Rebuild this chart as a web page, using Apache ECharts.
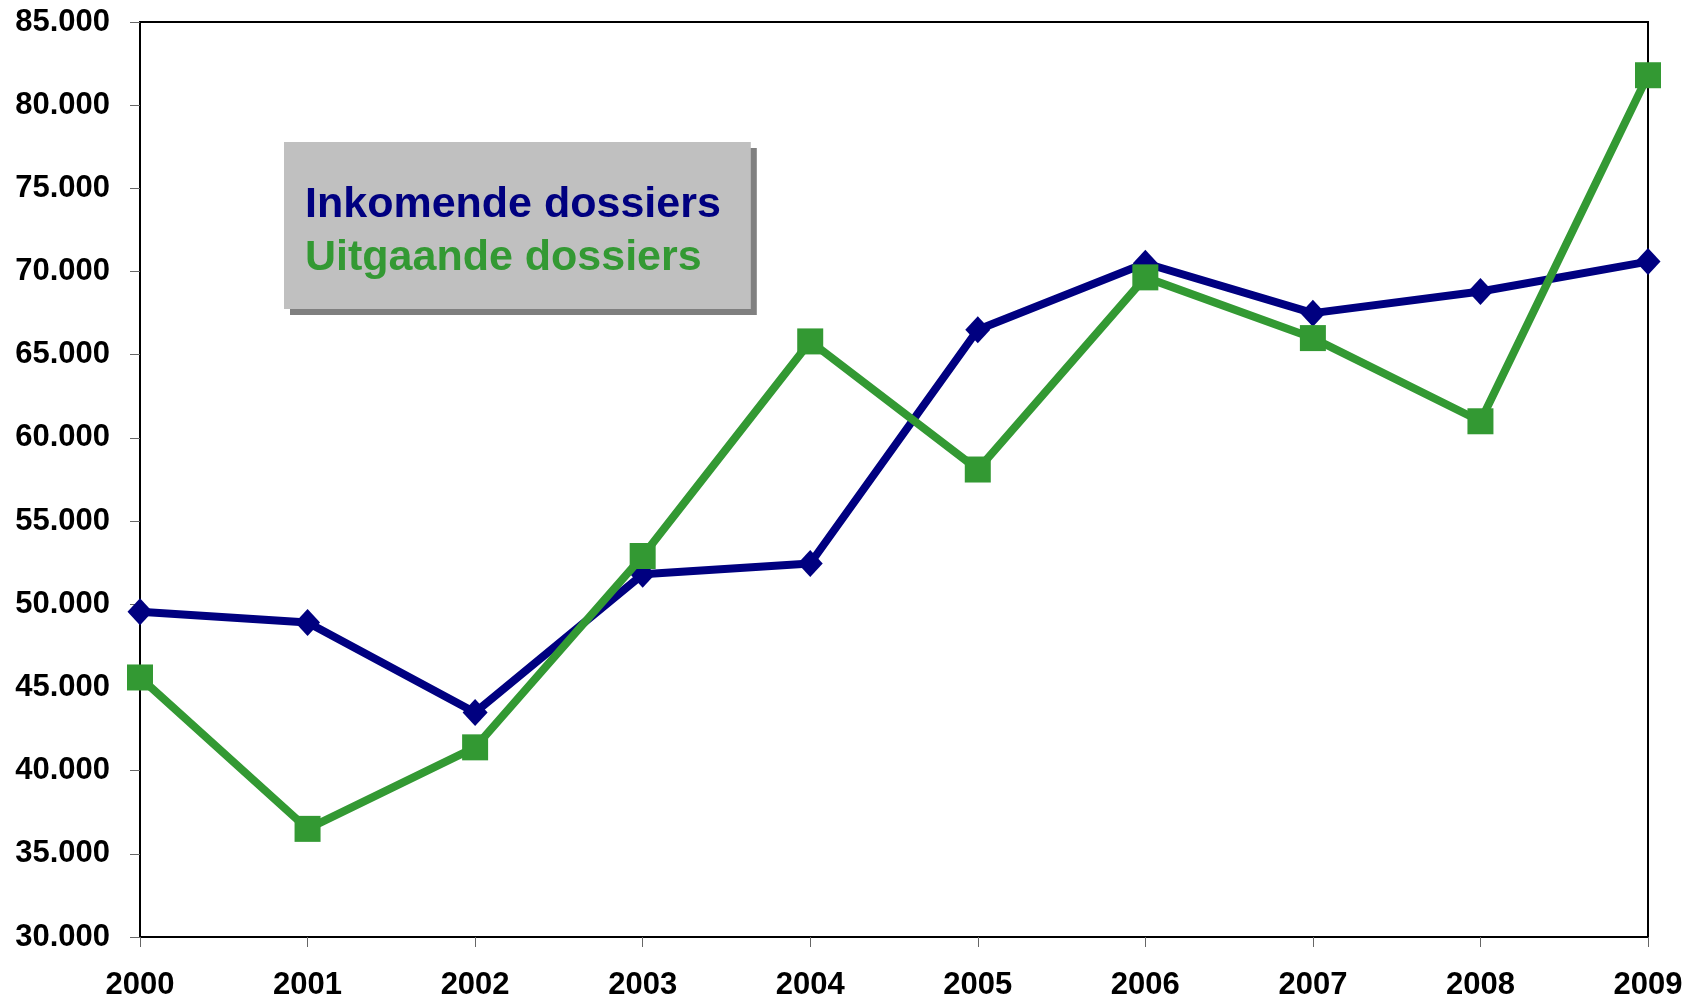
<!DOCTYPE html>
<html>
<head>
<meta charset="utf-8">
<script src="https://cdn.jsdelivr.net/npm/echarts@6/dist/echarts.min.js"></script>
<style>
html,body{margin:0;padding:0;background:#fff;}
#chart{width:1699px;height:1003px;}
</style>
</head>
<body>
<div id="chart"></div>
<script>
const years = ['2000','2001','2002','2003','2004','2005','2006','2007','2008','2009'];
const inkomende = [49550, 48900, 43500, 51800, 52450, 66500, 70500, 67500, 68800, 70600];
const uitgaande = [45600, 36500, 41400, 52900, 65800, 58100, 69650, 66000, 61000, 81800];
const seriesNames = ['Inkomende dossiers', 'Uitgaande dossiers'];
const seriesColors = ['#000080', '#339933'];

const FONT = "'Liberation Sans', Arial, sans-serif";
const chart = echarts.init(document.getElementById('chart'), null, {renderer: 'canvas'});

function fmt(v) {
  return String(v).replace(/\B(?=(\d{3})+(?!\d))/g, '.');
}

chart.setOption({
  animation: false,
  backgroundColor: '#ffffff',
  grid: {
    left: 140, right: 51, top: 22, bottom: 66,
    show: true, borderColor: '#000', borderWidth: 2, backgroundColor: 'transparent'
  },
  legend: {
    orient: 'vertical',
    left: 284, top: 142,
    padding: [42, 30, 29, 16],
    itemGap: 10,
    itemWidth: 0, itemHeight: 0,
    icon: 'none',
    selectedMode: false,
    backgroundColor: '#c0c0c0',
    shadowColor: '#808080', shadowBlur: 0, shadowOffsetX: 6, shadowOffsetY: 6,
    textStyle: {fontFamily: FONT, fontWeight: 'bold', fontSize: 43},
    data: seriesNames.map((n, i) => ({name: n, textStyle: {color: seriesColors[i], fontFamily: FONT, fontWeight: 'bold', fontSize: 43}}))
  },
  xAxis: {
    type: 'category',
    data: years,
    boundaryGap: false,
    axisLine: {lineStyle: {color: '#000', width: 2}},
    axisTick: {show: true, inside: false, length: 10, lineStyle: {color: '#666', width: 1}},
    axisLabel: {margin: 33, color: '#000', fontFamily: FONT, fontWeight: 'bold', fontSize: 31},
    splitLine: {show: false}
  },
  yAxis: {
    type: 'value',
    min: 30000, max: 85000, interval: 5000,
    axisLine: {show: true, lineStyle: {color: '#000', width: 2}},
    axisTick: {show: true, inside: false, length: 10, lineStyle: {color: '#666', width: 1}},
    axisLabel: {margin: 30, color: '#000', fontFamily: FONT, fontWeight: 'bold', fontSize: 31, formatter: fmt},
    splitLine: {show: false}
  },
  series: [
    {
      name: seriesNames[0], type: 'line', data: inkomende, clip: false,
      symbol: 'diamond', symbolSize: [25, 27],
      lineStyle: {color: seriesColors[0], width: 8},
      itemStyle: {color: seriesColors[0]},
      z: 2
    },
    {
      name: seriesNames[1], type: 'line', data: uitgaande, clip: false,
      symbol: 'rect', symbolSize: 26,
      lineStyle: {color: seriesColors[1], width: 8},
      itemStyle: {color: seriesColors[1]},
      z: 3
    }
  ]
});
</script>
</body>
</html>
